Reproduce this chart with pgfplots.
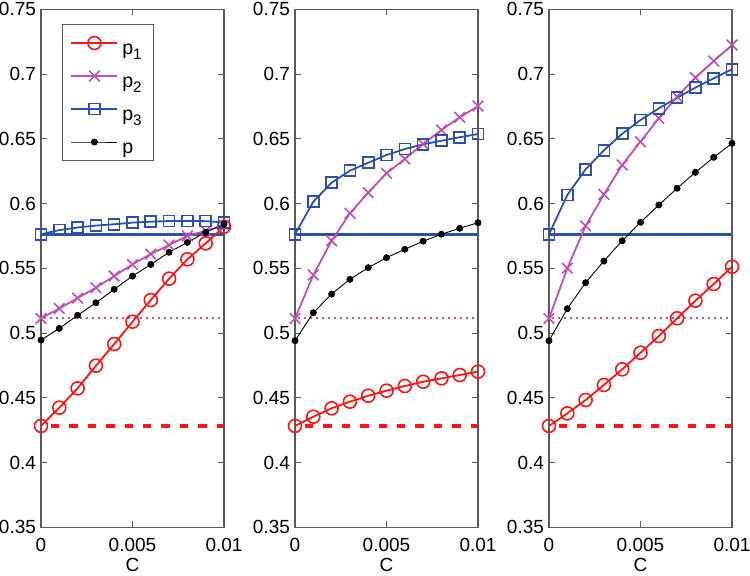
\documentclass[border=0pt]{standalone}
\usepackage{fontspec}
\setmainfont{Liberation Sans}
\usepackage{pgfplots}
\pgfplotsset{compat=1.18}
\definecolor{cred}{RGB}{255,20,20}
\definecolor{cmag}{RGB}{190,80,180}
\definecolor{cblue}{RGB}{45,80,170}
\definecolor{cframe}{RGB}{90,90,90}
\newcommand{\sub}[1]{\raisebox{-0.5ex}{\fontsize{7.6}{8}\selectfont #1}}
\newcommand{\lstrut}{\rule{0pt}{13pt}}
\pgfplotsset{
  myax/.style={
    scale only axis, width=91.5pt, height=259pt,
    xmin=0, xmax=0.01, ymin=0.35, ymax=0.75,
    xtick={0,0.005,0.01}, ytick={0.35,0.4,0.45,0.5,0.55,0.6,0.65,0.7,0.75},
    scaled x ticks=false, scaled y ticks=false,
    /pgf/number format/fixed, /pgf/number format/precision=3,
    /pgf/number format/assume math mode=true,
    tick align=inside, major tick length=3pt,
    axis line style={cframe, line width=0.6pt},
    every tick/.style={cframe, line width=0.5pt},
    tick label style={font=\fontsize{9.5}{11.4}\selectfont},
    xticklabel style={yshift=-2pt},
    yticklabel style={xshift=1pt},
    label style={font=\fontsize{9.5}{11.4}\selectfont},
    xlabel={C},
    xlabel style={at={(axis description cs:0.5,0)}, anchor=center, yshift=-18.6pt},
    clip=false,
  },
  s1/.style={cred, line width=0.9pt, mark=o, mark size=3.25pt, mark options={solid, line width=0.8pt}},
  s2/.style={cmag, line width=0.9pt, mark=x, mark size=3.75pt, mark options={solid, line width=0.8pt}},
  s3/.style={cblue, line width=0.9pt, mark=square, mark size=2.75pt, mark options={solid, line width=0.8pt}},
  s4/.style={black, line width=0.45pt, mark=*, mark size=1.5pt, mark options={solid}},
  h1/.style={cred, line width=2pt, dash pattern=on 4.2pt off 5pt, dash phase=4.2pt, forget plot},
  h2/.style={cmag, line width=1pt, dash pattern=on 1pt off 2pt, dash phase=1.5pt, forget plot},
  h3/.style={cblue, line width=1.6pt, forget plot},
}
\begin{document}
\begin{tikzpicture}
\path[use as bounding box] (-20.5pt,-23.85pt) rectangle (354.5pt,263.65pt);
% ---------- panel 1 ----------
\begin{axis}[myax, at={(0pt,0pt)}, anchor=south west,
  legend style={at={(0,1)}, anchor=north west, xshift=10.5pt, yshift=-7.35pt,
    draw=cframe, line width=0.5pt, font=\fontsize{9.8}{11.8}\selectfont,
    inner xsep=4pt, inner ysep=1pt, row sep=0pt,
    nodes={inner ysep=1pt}},
  legend cell align=left,
  legend image code/.code={\draw[mark repeat=2,mark phase=2] plot coordinates {(0pt,0pt) (11.5pt,0pt) (23pt,0pt)};},
]
\addplot[h3] coordinates {(0,0.5763) (0.01,0.5763)};
\addplot[h2] coordinates {(0,0.5113) (0.01,0.5113)};
\addplot[h1] coordinates {(0,0.4283) (0.01,0.4283)};
\addplot[s1] coordinates {(0,0.4283) (0.001,0.4424) (0.002,0.4573) (0.003,0.4748) (0.004,0.4915) (0.005,0.5088) (0.006,0.5255) (0.007,0.542) (0.008,0.557) (0.009,0.5693) (0.01,0.5821)};
\addlegendentry{\lstrut p\sub{1}}
\addplot[s2] coordinates {(0,0.5113) (0.001,0.519) (0.002,0.527) (0.003,0.535) (0.004,0.544) (0.005,0.553) (0.006,0.561) (0.007,0.568) (0.008,0.575) (0.009,0.579) (0.01,0.583)};
\addlegendentry{\lstrut p\sub{2}}
\addplot[s3] coordinates {(0,0.5763) (0.001,0.5795) (0.002,0.5815) (0.003,0.583) (0.004,0.584) (0.005,0.5853) (0.006,0.586) (0.007,0.5865) (0.008,0.5866) (0.009,0.5864) (0.01,0.5855)};
\addlegendentry{\lstrut p\sub{3}}
\addplot[s4] coordinates {(0,0.4946) (0.001,0.5036) (0.002,0.5137) (0.003,0.5234) (0.004,0.5338) (0.005,0.544) (0.006,0.553) (0.007,0.5624) (0.008,0.570) (0.009,0.5778) (0.01,0.5842)};
\addlegendentry{\lstrut p}
\end{axis}
% ---------- panel 2 ----------
\begin{axis}[myax, at={(127pt,0pt)}, anchor=south west]
\addplot[h3] coordinates {(0,0.5763) (0.01,0.5763)};
\addplot[h2] coordinates {(0,0.5113) (0.01,0.5113)};
\addplot[h1] coordinates {(0,0.4283) (0.01,0.4283)};
\addplot[s1] coordinates {(0,0.4283) (0.001,0.4354) (0.002,0.4419) (0.003,0.447) (0.004,0.4516) (0.005,0.4555) (0.006,0.4591) (0.007,0.4624) (0.008,0.465) (0.009,0.4676) (0.01,0.4702)};
\addplot[s2] coordinates {(0,0.5113) (0.001,0.5448) (0.002,0.5713) (0.003,0.5925) (0.004,0.6084) (0.005,0.6234) (0.006,0.6344) (0.007,0.646) (0.008,0.6568) (0.009,0.6666) (0.01,0.6753)};
\addplot[s3] coordinates {(0,0.5763) (0.001,0.6014) (0.002,0.6161) (0.003,0.6254) (0.004,0.6315) (0.005,0.6375) (0.006,0.6421) (0.007,0.6457) (0.008,0.6485) (0.009,0.6512) (0.01,0.6537)};
\addplot[s4] coordinates {(0,0.4941) (0.001,0.5157) (0.002,0.5301) (0.003,0.5415) (0.004,0.5505) (0.005,0.5582) (0.006,0.5647) (0.007,0.5709) (0.008,0.5763) (0.009,0.5809) (0.01,0.5852)};
\end{axis}
% ---------- panel 3 ----------
\begin{axis}[myax, at={(254pt,0pt)}, anchor=south west]
\addplot[h3] coordinates {(0,0.5763) (0.01,0.5763)};
\addplot[h2] coordinates {(0,0.5113) (0.01,0.5113)};
\addplot[h1] coordinates {(0,0.4283) (0.01,0.4283)};
\addplot[s1] coordinates {(0,0.4283) (0.001,0.438) (0.002,0.4483) (0.003,0.4599) (0.004,0.472) (0.005,0.4848) (0.006,0.4977) (0.007,0.5114) (0.008,0.525) (0.009,0.5379) (0.01,0.5512)};
\addplot[s2] coordinates {(0,0.5113) (0.001,0.55) (0.002,0.5827) (0.003,0.6071) (0.004,0.6298) (0.005,0.6478) (0.006,0.6658) (0.007,0.6825) (0.008,0.6972) (0.009,0.7101) (0.01,0.7224)};
\addplot[s3] coordinates {(0,0.5763) (0.001,0.6066) (0.002,0.6264) (0.003,0.6411) (0.004,0.6539) (0.005,0.6645) (0.006,0.6735) (0.007,0.6817) (0.008,0.6895) (0.009,0.6967) (0.01,0.7037)};
\addplot[s4] coordinates {(0,0.4941) (0.001,0.5188) (0.002,0.5389) (0.003,0.5556) (0.004,0.5713) (0.005,0.5855) (0.006,0.5989) (0.007,0.6118) (0.008,0.6241) (0.009,0.6357) (0.01,0.6465)};
\end{axis}
\end{tikzpicture}
\end{document}
